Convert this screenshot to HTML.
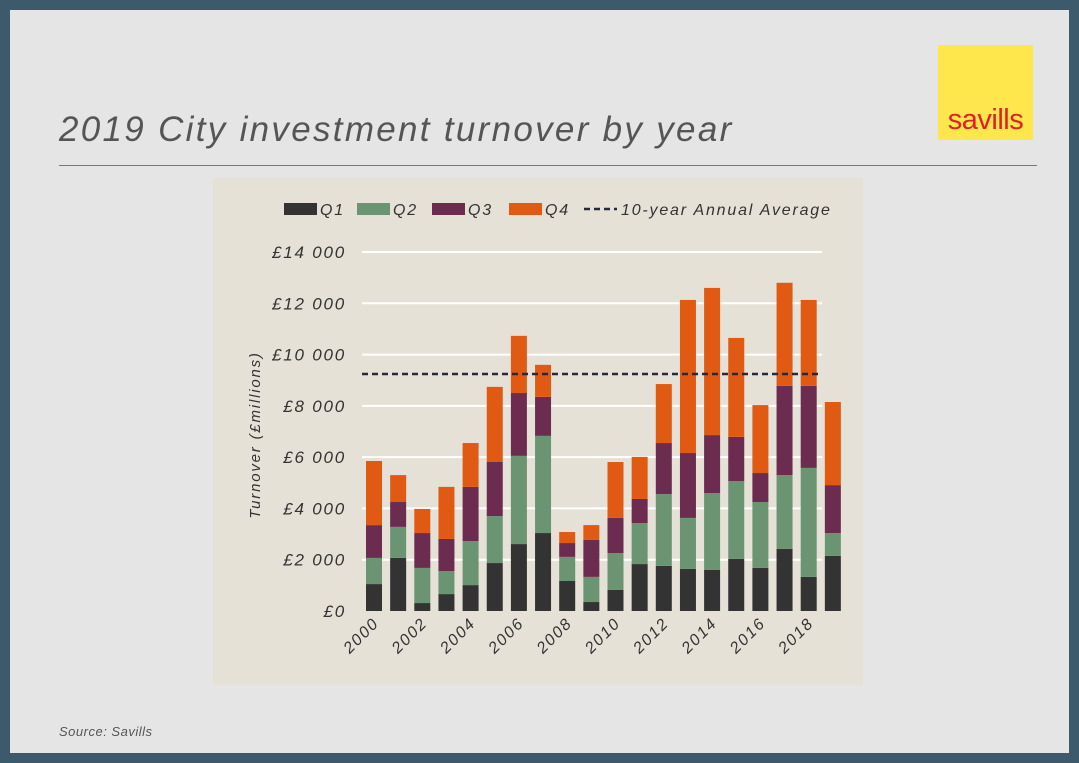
<!DOCTYPE html>
<html><head><meta charset="utf-8"><style>
body{margin:0;width:1079px;height:763px;background:#3d596c;overflow:hidden;font-family:"Liberation Sans",sans-serif}
#page{position:absolute;left:10px;top:10px;width:1059px;height:743px;background:#e5e5e5}
#title{position:absolute;left:49px;top:100px;font-size:35px;font-style:italic;color:#555;letter-spacing:2.3px}
#rule{position:absolute;left:49px;top:155px;width:978px;height:1px;background:#777}
#logo{position:absolute;left:928px;top:35px;width:95px;height:95px;background:#fde74c}
#logo span{position:absolute;left:0;right:0;bottom:3px;text-align:center;color:#e31e24;font-size:29px;letter-spacing:-0.5px}
#source{position:absolute;left:49px;top:714px;font-size:13px;font-style:italic;color:#555;letter-spacing:0.5px}
svg{position:absolute;left:0;top:0}
text{letter-spacing:1.8px}
</style></head><body>
<div id="page">
<div id="title">2019 City investment turnover by year</div>
<div id="rule"></div>
<div id="logo"><span>savills</span></div>
<div id="source">Source: Savills</div>
</div>
<svg id="chart" width="1079" height="763"></svg>
<script>
const years=[2000,2001,2002,2003,2004,2005,2006,2007,2008,2009,2010,2011,2012,2013,2014,2015,2016,2017,2018,2019];
const q1=[1050,2070,310,660,1010,1870,2610,3040,1170,350,820,1830,1760,1640,1600,2030,1680,2420,1330,2150];
const q2=[1020,1210,1370,900,1720,1830,3440,3790,940,980,1440,1600,2800,1990,3000,3040,2570,2880,4250,890];
const q3=[1280,970,1360,1250,2110,2110,2450,1520,540,1440,1370,940,1990,2530,2260,1720,1130,3480,3200,1870];
const q4=[2500,1050,940,2030,1710,2930,2230,1250,430,580,2180,1640,2300,5970,5740,3860,2650,4020,3350,3240];
const yTicks=[0,2000,4000,6000,8000,10000,12000,14000];
const avg=9240;
const NS="http://www.w3.org/2000/svg";
const svg=document.getElementById('chart');
function el(t,a,p){const e=document.createElementNS(NS,t);for(const k in a)e.setAttribute(k,a[k]);(p||svg).appendChild(e);return e;}
const y=v=>611-v/14000*359;
const x=i=>374+i*24.15;
const bg=el('rect',{x:213,y:178,width:650,height:507,fill:'#e5e1d6'});


yTicks.forEach(t=>{
  if(t>0){const g=el('line',{x1:362,x2:822,y1:y(t),y2:y(t),stroke:'#fff','stroke-width':2});
  
  }
  const lb=el('text',{x:346,y:y(t)+6,'text-anchor':'end','font-size':17,'font-style':'italic',fill:'#333'});
  lb.textContent='£'+(t===0?'0':(t/1000)+' 000');
  
  
});
const yt=el('text',{transform:'translate(260,435) rotate(-90)','text-anchor':'middle','font-size':15,'font-style':'italic',fill:'#333'});
yt.textContent='Turnover (£millions)';


const series=[q1,q2,q3,q4],cols=['#333333','#6b9473','#6b2c4f','#e05a14'];
years.forEach((yr,i)=>{
  let base=0;
  series.forEach((s,k)=>{
    const r=el('rect',{x:x(i)-8,y:y(base+s[i]),width:16,height:y(base)-y(base+s[i]),fill:cols[k]});
    
    
    base+=s[i];
  });
  if(i%2===0){
    const t=el('text',{transform:`translate(${x(i)+6},${624}) rotate(-45)`,'text-anchor':'end','font-size':16,'font-style':'italic',fill:'#333'});
    t.textContent=yr;
    
    
  }
});
const al=el('line',{x1:362,x2:822,y1:y(avg),y2:y(avg),stroke:'#262a3a','stroke-width':2.5,'stroke-dasharray':'6,4'});


const leg=[['Q1',284],['Q2',357],['Q3',432],['Q4',509]];
leg.forEach((l,k)=>{
  const r=el('rect',{x:l[1],y:203,width:33,height:12,fill:cols[k]});
  
  
  const t=el('text',{x:l[1]+36,y:215,'font-size':16,'font-style':'italic',fill:'#333'});
  t.textContent=l[0];
  
  
});
const ld=el('line',{x1:584,x2:617,y1:209,y2:209,stroke:'#262a3a','stroke-width':2.5,'stroke-dasharray':'6,4'});


const lt=el('text',{x:621,y:215,'font-size':16,'font-style':'italic',fill:'#333'});
lt.textContent='10-year Annual Average';


</script>
</body></html>
